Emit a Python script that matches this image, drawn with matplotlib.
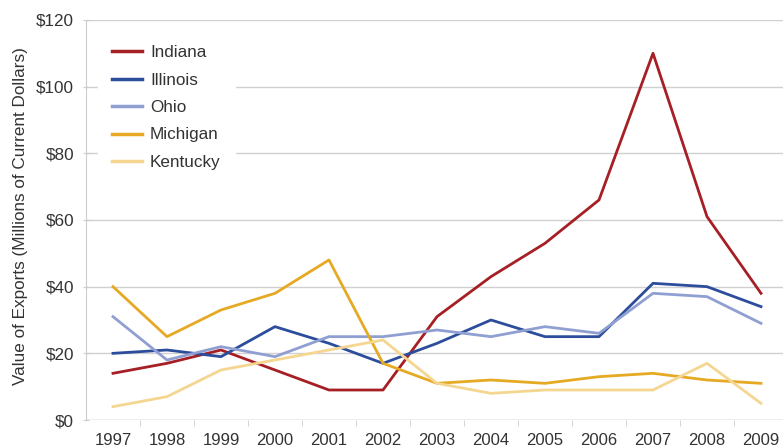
import matplotlib.pyplot as plt
from matplotlib.ticker import FuncFormatter, MultipleLocator

years = list(range(1997, 2010))
indiana = [14, 17, 21, 15, 9, 9, 31, 43, 53, 66, 110, 61, 38]
illinois = [20, 21, 19, 28, 23, 17, 23, 30, 25, 25, 41, 40, 34]
ohio = [31, 18, 22, 19, 25, 25, 27, 25, 28, 26, 38, 37, 29]
michigan = [40, 25, 33, 38, 48, 17, 11, 12, 11, 13, 14, 12, 11]
kentucky = [4, 7, 15, 18, 21, 24, 11, 8, 9, 9, 9, 17, 5]

series = [
    ("Indiana", indiana, "#a51f25"),
    ("Illinois", illinois, "#2c4d9c"),
    ("Ohio", ohio, "#8f9fd1"),
    ("Michigan", michigan, "#e6a923"),
    ("Kentucky", kentucky, "#f5d690"),
]

plt.rcParams['font.family'] = ['Liberation Sans', 'DejaVu Sans']

fig = plt.figure(figsize=(7.83, 4.48), dpi=100)
ax = fig.add_axes([0.1098, 0.0625, 0.8966, 0.893])

for name, vals, col in series:
    ax.plot(years, vals, color=col, lw=2.0, label=name, zorder=3)

ax.set_xlim(1996.5, 2009.5)
ax.set_ylim(0, 120)
ax.yaxis.set_major_locator(MultipleLocator(20))
ax.yaxis.set_major_formatter(FuncFormatter(lambda v, p: f"${v:.0f}"))
ax.set_xticks(years)
ax.set_xticks([y + 0.5 for y in years[:-1]], minor=True)
ax.tick_params(axis='x', which='major', length=0, labelsize=12, colors='#333333', pad=9)
ax.tick_params(axis='x', which='minor', length=4, color='#cccccc')
ax.tick_params(axis='y', length=5, direction='inout', color='#cccccc',
               labelsize=12.3, labelcolor='#333333', pad=6)

ax.grid(axis='y', color='#d0d0d0', lw=1.0, zorder=0)
for s in ['top', 'right', 'bottom']:
    ax.spines[s].set_visible(False)
ax.spines['left'].set_color('#cccccc')
ax.axhline(0, color='#cccccc', lw=1.0, zorder=1)

ax.set_ylabel("Value of Exports (Millions of Current Dollars)", fontsize=12.3, color='#333333')
ax.yaxis.set_label_coords(-0.082, 0.51)

# legend sits on a plain white box that hides the gridlines behind it
leg = ax.legend(loc='upper left', bbox_to_anchor=(0.012, 0.982), frameon=True,
                fontsize=12.3, handlelength=1.75, handletextpad=0.45,
                labelspacing=0.73, borderpad=0.55)
leg.get_frame().set_edgecolor('white')
leg.get_frame().set_facecolor('white')
leg.get_frame().set_alpha(1.0)
leg.get_frame().set_boxstyle('square')
for t in leg.get_texts():
    t.set_color('#333333')
for h in leg.get_lines():
    h.set_linewidth(2.5)

fig.savefig("out.png", dpi=100)
